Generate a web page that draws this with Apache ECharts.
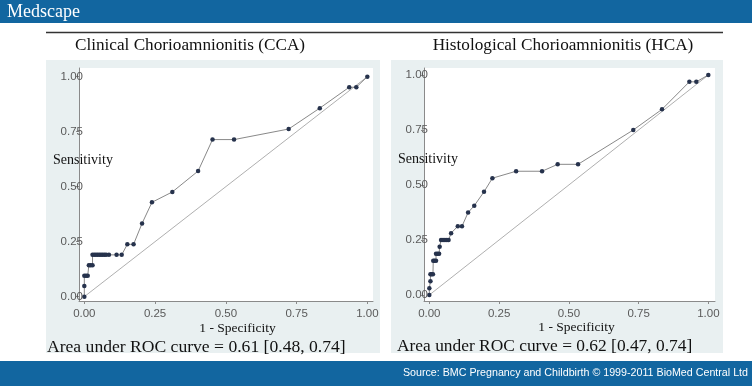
<!DOCTYPE html>
<html><head><meta charset="utf-8">
<script src="https://cdn.jsdelivr.net/npm/echarts@6/dist/echarts.min.js"></script>
<style>html,body{margin:0;padding:0;background:#fff}#c{width:752px;height:386px}</style>
</head><body><div id="c"></div>
<script>
// ---- data ----
const tickValues = [0, 0.25, 0.5, 0.75, 1];
const diagX = [0, 1];
const diagY = [0, 1];
// Clinical Chorioamnionitis (CCA)
const ccaX = [0, 0, 0, 0.006, 0.012, 0.016, 0.022, 0.029, 0.029, 0.035, 0.041, 0.047, 0.053, 0.059, 0.065, 0.071, 0.077, 0.087, 0.114, 0.132, 0.152, 0.174, 0.204, 0.239, 0.311, 0.402, 0.453, 0.529, 0.722, 0.832, 0.936, 0.961, 1];
const ccaY = [0, 0.048, 0.095, 0.095, 0.095, 0.143, 0.143, 0.143, 0.190, 0.190, 0.190, 0.190, 0.190, 0.190, 0.190, 0.190, 0.190, 0.190, 0.190, 0.190, 0.238, 0.238, 0.333, 0.429, 0.476, 0.571, 0.714, 0.714, 0.762, 0.857, 0.952, 0.952, 1];
// Histological Chorioamnionitis (HCA)
const hcaX = [0, 0, 0.004, 0.004, 0.008, 0.013, 0.014, 0.019, 0.024, 0.024, 0.030, 0.035, 0.037, 0.042, 0.049, 0.056, 0.063, 0.069, 0.078, 0.102, 0.117, 0.139, 0.161, 0.196, 0.226, 0.311, 0.404, 0.460, 0.533, 0.731, 0.834, 0.932, 0.957, 1];
const hcaY = [0, 0.031, 0.063, 0.094, 0.094, 0.094, 0.156, 0.156, 0.156, 0.188, 0.188, 0.188, 0.219, 0.25, 0.25, 0.25, 0.25, 0.25, 0.281, 0.3125, 0.3125, 0.375, 0.406, 0.469, 0.531, 0.5625, 0.5625, 0.594, 0.594, 0.75, 0.844, 0.969, 0.969, 1];
const panelTitles = ['Clinical Chorioamnionitis (CCA)', 'Histological Chorioamnionitis (HCA)'];
const aucTexts = ['Area under ROC curve = 0.61 [0.48, 0.74]', 'Area under ROC curve = 0.62 [0.47, 0.74]'];
const yTitle = 'Sensitivity';
const xTitle = '1 - Specificity';

// ---- build ----
const zip = (a, b) => a.map((v, i) => [v, b[i]]);
const serif = '"Liberation Serif", "Times New Roman", serif';
const sans = '"Liberation Sans", Arial, sans-serif';
const lblColor = '#5a5a5a';
const axisColor = '#8a8a8a';

function xAxisOpt(idx, min, max) {
  return {
    type: 'value', gridIndex: idx, min: min, max: max, z: 5,
    axisLine: { show: true, onZero: false, lineStyle: { color: axisColor, width: 1 } },
    axisTick: { show: true, length: 3, customValues: tickValues, lineStyle: { color: axisColor } },
    axisLabel: { customValues: tickValues, formatter: v => v.toFixed(2), color: lblColor, fontFamily: sans, fontSize: 11.5, margin: 7 },
    splitLine: { show: false }
  };
}
function yAxisOpt(idx, min, max) {
  return {
    type: 'value', gridIndex: idx, min: min, max: max, z: 5,
    axisLine: { show: true, onZero: false, lineStyle: { color: axisColor, width: 1 } },
    axisTick: { show: true, length: 3, customValues: tickValues, lineStyle: { color: axisColor } },
    axisLabel: { customValues: tickValues, formatter: v => v.toFixed(2), color: lblColor, fontFamily: sans, fontSize: 11.5, margin: -4, verticalAlign: 'middle', padding: [0, 0, 10, 0] },
    splitLine: { show: false }
  };
}
function rocSeries(idx, data) {
  return {
    type: 'line', xAxisIndex: idx, yAxisIndex: idx, data: data,
    symbol: 'circle', symbolSize: 4.5, itemStyle: { color: '#26324c' },
    lineStyle: { color: '#7a7a7a', width: 0.9 }, silent: true, animation: false, z: 3
  };
}
function diagSeries(idx) {
  return {
    type: 'line', xAxisIndex: idx, yAxisIndex: idx, data: zip(diagX, diagY),
    symbol: 'none', lineStyle: { color: '#9a9a9a', width: 0.8 }, silent: true, animation: false, z: 2
  };
}
function txt(x, y, s, font, size, color, align) {
  return { type: 'text', x: x, y: y, z: 10, style: { text: s, fontFamily: font, fontSize: size, fill: color, align: align || 'left', verticalAlign: 'middle' } };
}

const panelBg = '#e9f0f1';
const blue = '#1266a0';

const option = {
  animation: false,
  backgroundColor: '#ffffff',
  grid: [
    { left: 79, top: 68, width: 294, height: 233, show: true, backgroundColor: '#ffffff', borderWidth: 0, z: 0 },
    { left: 424, top: 68, width: 291, height: 233, show: true, backgroundColor: '#ffffff', borderWidth: 0, z: 0 }
  ],
  xAxis: [xAxisOpt(0, -0.0188, 1.02), xAxisOpt(1, -0.0191, 1.0239)],
  yAxis: [yAxisOpt(0, -0.0197, 1.0394), yAxisOpt(1, -0.0273, 1.0318)],
  series: [diagSeries(0), rocSeries(0, zip(ccaX, ccaY)), diagSeries(1), rocSeries(1, zip(hcaX, hcaY))],
  graphic: { elements: [
    { type: 'rect', shape: { x: 0, y: 0, width: 752, height: 23 }, style: { fill: blue }, z: -10 },
    { type: 'rect', shape: { x: 0, y: 361, width: 752, height: 25 }, style: { fill: blue }, z: -10 },
    { type: 'rect', shape: { x: 46, y: 60, width: 334, height: 293 }, style: { fill: panelBg }, z: -10 },
    { type: 'rect', shape: { x: 391, y: 60, width: 332, height: 293 }, style: { fill: panelBg }, z: -10 },
    { type: 'line', shape: { x1: 46, y1: 32.5, x2: 723, y2: 32.5 }, style: { stroke: '#333333', lineWidth: 1.5 }, z: -10 },
    txt(7, 12, 'Medscape', serif, 18, '#ffffff'),
    txt(748, 373.5, 'Source: BMC Pregnancy and Childbirth © 1999-2011 BioMed Central Ltd', sans, 10.7, '#ffffff', 'right'),
    txt(190, 45.5, panelTitles[0], serif, 17.2, '#111111', 'center'),
    txt(563, 45.5, panelTitles[1], serif, 17.2, '#111111', 'center'),
    txt(53, 160, yTitle, serif, 14, '#111111'),
    txt(398, 159, yTitle, serif, 14, '#111111'),
    txt(237.5, 328, xTitle, serif, 13.5, '#111111', 'center'),
    txt(576.5, 327, xTitle, serif, 13.5, '#111111', 'center'),
    txt(47, 347, aucTexts[0], serif, 17.6, '#111111'),
    txt(397, 346, aucTexts[1], serif, 17.4, '#111111')
  ]}
};
const chart = echarts.init(document.getElementById('c'), null, { renderer: 'canvas' });
chart.setOption(option);
</script>
</body></html>
